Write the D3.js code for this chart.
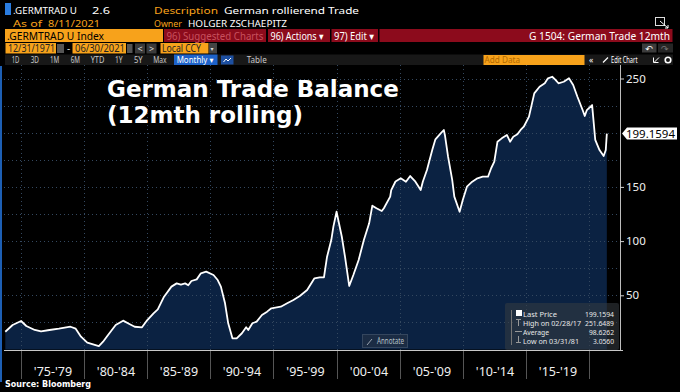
<!DOCTYPE html>
<html>
<head>
<meta charset="utf-8">
<script src="https://cdn.jsdelivr.net/npm/d3@7"></script>
<style>
  body { margin: 0; background: #000; }
</style>
</head>
<body>
<div id="chart"></div>
<script>
// monthly 12mth rolling German trade balance (bn EUR)
const months = ["1973-10","1974-05","1975-01","1975-06","1976-02","1976-08","1977-04","1978-01","1978-12","1979-05",
  "1979-10","1980-04","1981-03","1981-07","1981-11","1982-07","1983-02","1983-08","1984-01","1984-08",
  "1985-01","1985-07","1985-11","1986-05","1986-12","1987-05","1987-09","1988-01","1988-04","1988-07",
  "1988-12","1989-04","1989-09","1990-04","1990-08","1990-11","1991-03","1991-06","1991-10","1992-02",
  "1992-07","1992-11","1993-01","1993-05","1993-09","1994-02","1994-07","1994-11","1995-08","1996-02",
  "1996-08","1997-02","1997-09","1998-04","1998-09","1999-01","1999-02","1999-04","1999-08","1999-10",
  "2000-01","2000-03","2000-06","2000-09","2001-01","2001-05","2001-10","2002-03","2002-08","2002-11",
  "2003-03","2003-08","2003-10","2004-04","2004-05","2004-09","2005-02","2005-07","2005-11","2006-04",
  "2006-09","2006-11","2007-03","2007-08","2007-11","2008-04","2008-07","2008-08","2008-11","2009-03",
  "2009-05","2009-10","2010-01","2010-05","2010-10","2011-03","2011-08","2012-01","2012-04","2012-07",
  "2012-10","2013-02","2013-07","2013-10","2014-01","2014-05","2014-08","2014-11","2015-04","2015-09",
  "2016-02","2016-07","2016-10","2017-02","2017-05","2017-08","2018-01","2018-06","2018-10","2019-02",
  "2019-07","2019-09","2019-11","2020-04","2020-05","2020-07","2020-11","2021-03","2021-05","2021-06"];
const values = [16.4,22.6,26.3,21.7,18,16.8,18,19.2,21,19.2,
  11.8,6.3,3.06,7.2,12.5,22.6,26.6,23.5,21,20.5,
  27.2,33.4,37,48.7,58,61,59.8,61,59.2,63.2,
  64.7,70.3,71.8,68.7,64.1,58,42.6,24.2,10.3,10.3,
  15,20.5,18,24.2,25.7,31.8,34.9,38,39.5,42.6,
  45.7,49.4,54.9,65.7,66.6,66.6,73.3,85.6,101,113.3,
  127.1,117.9,104,85.6,58.6,68.7,82.6,101,116.4,132.7,
  130.3,127.8,130.3,141,147,155,157.9,154.8,160,154.8,
  147.1,154.8,165.6,184,193.9,199.4,202.5,197.9,177.9,156.4,
  141,127.1,138,150.2,154.8,157.9,159.4,159.4,167.2,173.3,
  191.7,194.8,197.9,191.7,196.3,198.5,202.5,205.5,214.8,236.3,
  242.4,245.6,250.2,251.6,249,245.6,247,250.2,244,233.2,
  220.9,215.4,220.9,225.5,214.8,193.3,184,178.5,184,199.1594];

const periodYears = [1975,1980,1985,1990,1995,2000,2005,2010,2015,2020];
const periodLabels = ["'75-'79","'80-'84","'85-'89","'90-'94","'95-'99","'00-'04","'05-'09","'10-'14","'15-'19"];
const yTicks = [50,100,150,250];
const gridValues = [25,50,75,100,125,150,175,200,225,250];
const lastPrice = 199.1594;
const legendLabels = ["Last Price", "High on 02/28/17", "Average", "Low on 03/31/81"];
const legendValues = ["199.1594", "251.6489", "98.6262", "3.0560"];

const W = 680, H = 392;
const ORANGE = "#f7a21b", RED = "#8c0b1c";
const UI_FONT = "Noto Sans, DejaVu Sans, sans-serif";

const svg = d3.select("#chart").append("svg")
  .attr("width", W).attr("height", H)
  .attr("font-family", UI_FONT)
  .style("display", "block");

svg.append("rect").attr("width", W).attr("height", H).attr("fill", "#000");

// small helper: text squeezed to the width it has in the bloomberg font
function txt(g, x, y, s, fill, size, width) {
  const t = g.append("text").attr("x", x).attr("y", y).attr("fill", fill)
    .attr("font-size", size).text(s);
  if (width) t.attr("textLength", width).attr("lengthAdjust", "spacingAndGlyphs");
  return t;
}

const parse = d3.timeParse("%Y-%m");
const data = months.map((m, i) => ({ date: parse(m), value: values[i] }));

// plot area
const x = d3.scaleTime()
  .domain([new Date(1973, 7, 25), new Date(2022, 5, 17)])
  .range([4, 620]);
const y = d3.scaleLinear().domain([0, 250]).range([349.5, 78.5]);
const plotTop = 65, plotBottom = 350, plotRight = 620;
const px = yr => Math.round(x(new Date(yr, 0, 1))) + 0.5;

function grid(color) {
  svg.append("g").selectAll("line").data(gridValues).join("line")
    .attr("x1", 4).attr("x2", plotRight)
    .attr("y1", d => Math.round(y(d)) + 0.5).attr("y2", d => Math.round(y(d)) + 0.5)
    .attr("stroke", color).attr("stroke-dasharray", "1,3");
  svg.append("g").selectAll("line").data(periodYears).join("line")
    .attr("x1", px).attr("x2", px)
    .attr("y1", plotTop).attr("y2", plotBottom)
    .attr("stroke", color).attr("stroke-dasharray", "1,3");
}

grid("#5a5a5a");

// area + line
const area = d3.area().x(d => x(d.date)).y0(y(0)).y1(d => y(d.value));
const line = d3.line().x(d => x(d.date)).y(d => y(d.value));

svg.append("path").datum(data).attr("d", area).attr("fill", "#0b2242");
grid("#34485f"); // gridlines show faintly through the fill

svg.append("path").datum(data).attr("d", line)
  .attr("fill", "none").attr("stroke", "#fff").attr("stroke-width", 1.8)
  .attr("stroke-linejoin", "round");

// x axis
svg.append("line").attr("x1", 4).attr("x2", plotRight + 3)
  .attr("y1", plotBottom + 0.5).attr("y2", plotBottom + 0.5)
  .attr("stroke", "#c8c8c8");
svg.append("g").selectAll("line").data(periodYears).join("line")
  .attr("x1", px).attr("x2", px)
  .attr("y1", plotBottom + 1).attr("y2", 379)
  .attr("stroke", "#555");
svg.append("g").selectAll("text").data(periodLabels).join("text")
  .attr("x", (d, i) => (px(periodYears[i]) + px(periodYears[i + 1])) / 2)
  .attr("y", 376)
  .attr("text-anchor", "middle")
  .attr("fill", "#f0f0f0")
  .attr("font-size", 12.5)
  .text(d => d);

// y axis
svg.append("line").attr("x1", plotRight + 0.5).attr("x2", plotRight + 0.5)
  .attr("y1", plotTop).attr("y2", plotBottom)
  .attr("stroke", "#bdbdbd");
const yAxisG = svg.append("g").attr("transform", `translate(${plotRight},0)`)
  .call(d3.axisRight(y).tickValues(yTicks).tickSize(4).tickPadding(2));
yAxisG.select(".domain").remove();
yAxisG.selectAll("line").attr("stroke", "#d0d0d0");
yAxisG.selectAll("text").attr("fill", "#f0f0f0").attr("font-size", 11.5)
  .attr("font-family", UI_FONT);

// last price tag
const ly = y(lastPrice);
svg.append("path")
  .attr("d", `M${plotRight + 2},${ly} L${plotRight + 7},${ly - 6} L677,${ly - 6} L677,${ly + 6} L${plotRight + 7},${ly + 6} Z`)
  .attr("fill", "#fff");
txt(svg, 626, ly + 4.2, lastPrice.toFixed(4), "#000", 11.5, 49);

// legend box
const lg = svg.append("g");
lg.append("rect").attr("x", 505).attr("y", 303).attr("width", 114).attr("height", 47)
  .attr("rx", 2).attr("fill", "rgba(55,60,66,0.55)");
const legendW = [34, 58, 26, 56], valueW = [29, 29, 25, 21];
legendLabels.forEach((s, i) => {
  const yy = 316.5 + i * 9;
  txt(lg, 523, yy, s, "#e8e8e8", 7, legendW[i]);
  txt(lg, 614 - valueW[i], yy, legendValues[i], "#e8e8e8", 7, valueW[i]);
});
lg.append("rect").attr("x", 516).attr("y", 310).attr("width", 6).attr("height", 6).attr("fill", "#fff");
lg.append("line").attr("x1", 511.5).attr("x2", 511.5).attr("y1", 310).attr("y2", 345).attr("stroke", "#777");
lg.append("line").attr("x1", 516).attr("x2", 521).attr("y1", 319.5).attr("y2", 319.5).attr("stroke", "#999");
lg.append("line").attr("x1", 518.5).attr("x2", 518.5).attr("y1", 319.5).attr("y2", 326).attr("stroke", "#999");
lg.append("line").attr("x1", 515).attr("x2", 522).attr("y1", 331.5).attr("y2", 331.5).attr("stroke", "#999");
lg.append("line").attr("x1", 518.5).attr("x2", 518.5).attr("y1", 336).attr("y2", 342).attr("stroke", "#999");
lg.append("line").attr("x1", 516).attr("x2", 521).attr("y1", 342.5).attr("y2", 342.5).attr("stroke", "#999");

// annotate button
svg.append("rect").attr("x", 362.5).attr("y", 334.5).attr("width", 45).attr("height", 13)
  .attr("fill", "#1b2c44").attr("stroke", "#34465e");
svg.append("path").attr("d", "M367,345 L372,339").attr("stroke", "#9aa4b0");
txt(svg, 377, 344, "Annotate", "#b8c0c8", 8, 27);

// title
const titleG = svg.append("g").attr("font-family", "DejaVu Sans, sans-serif")
  .attr("font-weight", "bold").attr("fill", "#fff").attr("font-size", 23);
titleG.append("text").attr("x", 107).attr("y", 97).text("German Trade Balance");
titleG.append("text").attr("x", 107).attr("y", 123).text("(12mth rolling)");

// source
svg.append("text").attr("x", 5).attr("y", 387)
  .attr("fill", "#fff").attr("font-size", 8).attr("font-weight", "bold")
  .attr("font-family", "DejaVu Sans, sans-serif")
  .text("Source: Bloomberg");

// left blue edge
svg.append("rect").attr("x", 0).attr("y", 66).attr("width", 2).attr("height", 316).attr("fill", "#1d5fb4");

// ---- header ----
const hdr = svg.append("g");
hdr.append("rect").attr("x", 5).attr("y", 3).attr("width", 6).attr("height", 12).attr("fill", "#2a7de1");
txt(hdr, 13, 13.8, ".GERMTRAD U", "#fff", 9.2, 64);
txt(hdr, 92, 13.8, "2.6", "#fff", 9.2, 18);
txt(hdr, 154, 13.8, "Description", ORANGE, 9.2, 64);
txt(hdr, 224, 13.8, "German rollierend Trade", "#fff", 9.2, 135);
txt(hdr, 13, 26.6, "As of", ORANGE, 9.2, 29);
txt(hdr, 48, 26.6, "8/11/2021", ORANGE, 9.2, 52);
txt(hdr, 154, 26.6, "Owner", ORANGE, 9.2, 28);
txt(hdr, 188, 26.6, "HOLGER ZSCHAEPITZ", "#fff", 9.2, 99);
// pop-out icon
hdr.append("rect").attr("x", 655.5).attr("y", 17.5).attr("width", 9).attr("height", 8)
  .attr("fill", "none").attr("stroke", "#ddd");
hdr.append("path").attr("d", "M660,21 L668,28 M665,28 L668,28 L668,25").attr("stroke", "#fff").attr("fill", "none");

// row 3: tabs
const r3 = svg.append("g");
r3.append("rect").attr("x", 5).attr("y", 29).attr("width", 158).attr("height", 13).attr("fill", ORANGE);
txt(r3, 7, 39.5, ".GERMTRAD U Index", "#000", 10.5, 97);
[[164, 266, "96) Suggested Charts", "#c8515e", 97], [268, 330, "96) Actions ▾", "#fff", 53], [331.5, 378, "97) Edit ▾", "#fff", 40]]
  .forEach(b => {
    r3.append("rect").attr("x", b[0]).attr("y", 29).attr("width", b[1] - b[0]).attr("height", 13).attr("fill", RED);
    txt(r3, b[0] + 2.5, 39.5, b[2], b[3], 10.5, b[4]);
  });
r3.append("rect").attr("x", 379.5).attr("y", 29).attr("width", 293).attr("height", 13).attr("fill", RED);
txt(r3, 529, 39.5, "G 1504: German Trade 12mth", "#fff", 10.5, 141);

// row 4: dates
const r4 = svg.append("g");
r4.append("rect").attr("x", 5.5).attr("y", 43).attr("width", 50.5).attr("height", 10.5).attr("fill", ORANGE);
txt(r4, 8, 52, "12/31/1971", "#222", 10, 47);
r4.append("rect").attr("x", 57).attr("y", 44).attr("width", 7).attr("height", 9).attr("fill", "#555");
txt(r4, 67, 52, "-", "#ddd", 10);
r4.append("rect").attr("x", 72.5).attr("y", 43).attr("width", 53.5).attr("height", 10.5).attr("fill", ORANGE);
txt(r4, 75, 52, "06/30/2021", "#222", 10, 50);
r4.append("rect").attr("x", 127).attr("y", 44).attr("width", 5.5).attr("height", 9).attr("fill", "#555");
r4.append("rect").attr("x", 135).attr("y", 43.5).attr("width", 10).attr("height", 10).attr("fill", "#3a3a3a");
txt(r4, 137.5, 52, "<", "#ddd", 9);
r4.append("rect").attr("x", 146.5).attr("y", 43.5).attr("width", 10).attr("height", 10).attr("fill", "#3a3a3a");
txt(r4, 149, 52, ">", "#ddd", 9);
r4.append("rect").attr("x", 160.5).attr("y", 43).attr("width", 48).attr("height", 10.5).attr("fill", ORANGE);
txt(r4, 162, 52, "Local CCY", "#222", 10, 39);
r4.append("rect").attr("x", 209).attr("y", 43).attr("width", 8).attr("height", 10.5).attr("fill", "#444");
txt(r4, 210.5, 51, "▾", "#ddd", 6);
r4.append("rect").attr("x", 642).attr("y", 43.5).attr("width", 14.5).attr("height", 9).attr("fill", "#3c3c3c");
txt(r4, 645, 51.5, "↶", "#fff", 9);
r4.append("rect").attr("x", 658).attr("y", 43.5).attr("width", 15).attr("height", 9).attr("fill", "#262626");
txt(r4, 661, 51.5, "↷", "#777", 9);

// row 5: toolbar
const r5 = svg.append("g");
r5.append("rect").attr("x", 5).attr("y", 54.5).attr("width", 668).attr("height", 10.5).attr("fill", "#181818");
[["1D", 11.7, 7.7], ["3D", 30.7, 8.3], ["1M", 50, 9.3], ["6M", 70.7, 9.3], ["YTD", 90.7, 13.7],
 ["1Y", 115, 7.7], ["5Y", 134, 8.7], ["Max", 153.3, 13.3]]
  .forEach(b => txt(r5, b[1], 63, b[0], "#c8c8c8", 8.5, b[2]));
r5.append("rect").attr("x", 174).attr("y", 54.5).attr("width", 43.5).attr("height", 10.5).attr("fill", "#1d62c9");
txt(r5, 176.7, 63, "Monthly ▾", "#fff", 8.5, 36.7);
r5.append("rect").attr("x", 221).attr("y", 55.5).attr("width", 12.5).attr("height", 9).attr("fill", "#1d4fa0");
r5.append("path").attr("d", "M223.5,62 L226,59 L228,61 L231,58").attr("stroke", "#fff").attr("fill", "none");
txt(r5, 246.7, 63, "Table", "#c8c8c8", 8.5, 20);
r5.append("rect").attr("x", 483.5).attr("y", 55).attr("width", 101).attr("height", 10).attr("fill", ORANGE);
txt(r5, 484.5, 63, "Add Data", "#b26a00", 8.5, 35.7);
txt(r5, 589, 63, "«", "#fff", 8.5);
r5.append("path").attr("d", "M603,62.5 L608,57.5").attr("stroke", "#fff").attr("stroke-width", 1.3);
txt(r5, 611, 63, "Edit Chart", "#fff", 8.5, 26.5);
r5.append("path").attr("d", "M653.5,57.5 L653.5,62.5 L658.5,62.5 M654.5,62 L659,57.5").attr("stroke", "#fff").attr("fill", "none");
r5.append("circle").attr("cx", 668).attr("cy", 60).attr("r", 2.8).attr("fill", "none").attr("stroke", "#fff").attr("stroke-width", 1.6);
</script>
</body>
</html>
